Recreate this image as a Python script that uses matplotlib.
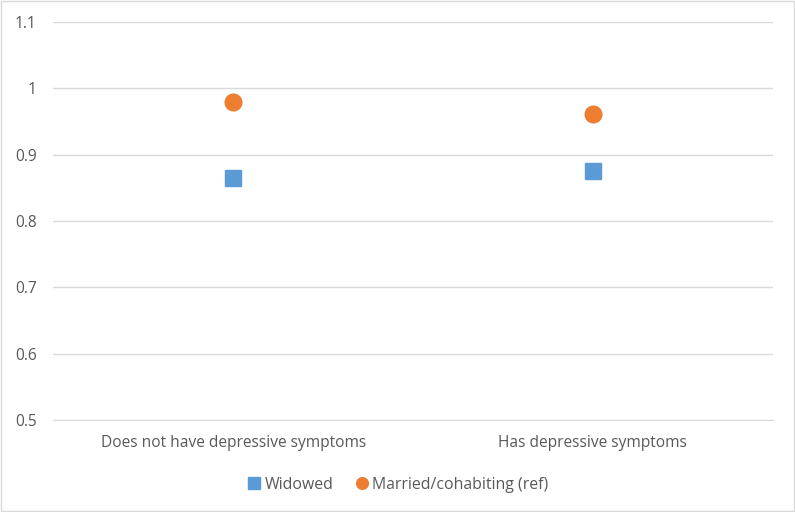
import numpy as np
import matplotlib.pyplot as plt
from matplotlib.patches import Rectangle

categories = ["Does not have depressive symptoms", "Has depressive symptoms"]
widowed = [0.865, 0.876]
married = [0.979, 0.961]
yticks = [0.5, 0.6, 0.7, 0.8, 0.9, 1.0, 1.1]
ytick_labels = ["0.5", "0.6", "0.7", "0.8", "0.9", "1", "1.1"]

blue = "#5B9BD5"
orange = "#ED7D31"
textc = "#595959"

plt.rcParams['font.family'] = ['Open Sans', 'DejaVu Sans']

fig = plt.figure(figsize=(7.95, 5.12), dpi=100)
ax = fig.add_axes([0.067, 0.180, 0.905, 0.777])

x = np.arange(len(categories))
ax.plot(x, widowed, linestyle='none', marker='s', markersize=11.5, color=blue,
        label="Widowed")
ax.plot(x, married, linestyle='none', marker='o', markersize=12, color=orange,
        label="Married/cohabiting (ref)")

ax.set_xlim(-0.5, 1.5)
ax.set_ylim(0.5, 1.1)
ax.set_yticks(yticks)
ax.set_yticklabels(ytick_labels)
ax.set_xticks(x)
ax.set_xticklabels(categories)
ax.tick_params(axis='both', length=0, labelsize=11.2, colors=textc)
ax.tick_params(axis='x', pad=11)
ax.tick_params(axis='y', pad=12)
ax.grid(axis='y', color="#D9D9D9", linewidth=1)
ax.set_axisbelow(True)
for s in ['top', 'right', 'left']:
    ax.spines[s].set_visible(False)
ax.spines['bottom'].set_color("#D9D9D9")

leg = fig.legend(loc='lower center', bbox_to_anchor=(0.5, 0.01), ncol=2,
                 frameon=False, fontsize=11.4, handletextpad=0.15,
                 handlelength=1.0, columnspacing=1.3, markerscale=0.7)
for t in leg.get_texts():
    t.set_color(textc)

fig.patches.append(Rectangle((0.001, 0.001), 0.998, 0.997, transform=fig.transFigure,
                             fill=False, edgecolor="#D9D9D9", linewidth=1))

fig.savefig("out.png", dpi=100)
